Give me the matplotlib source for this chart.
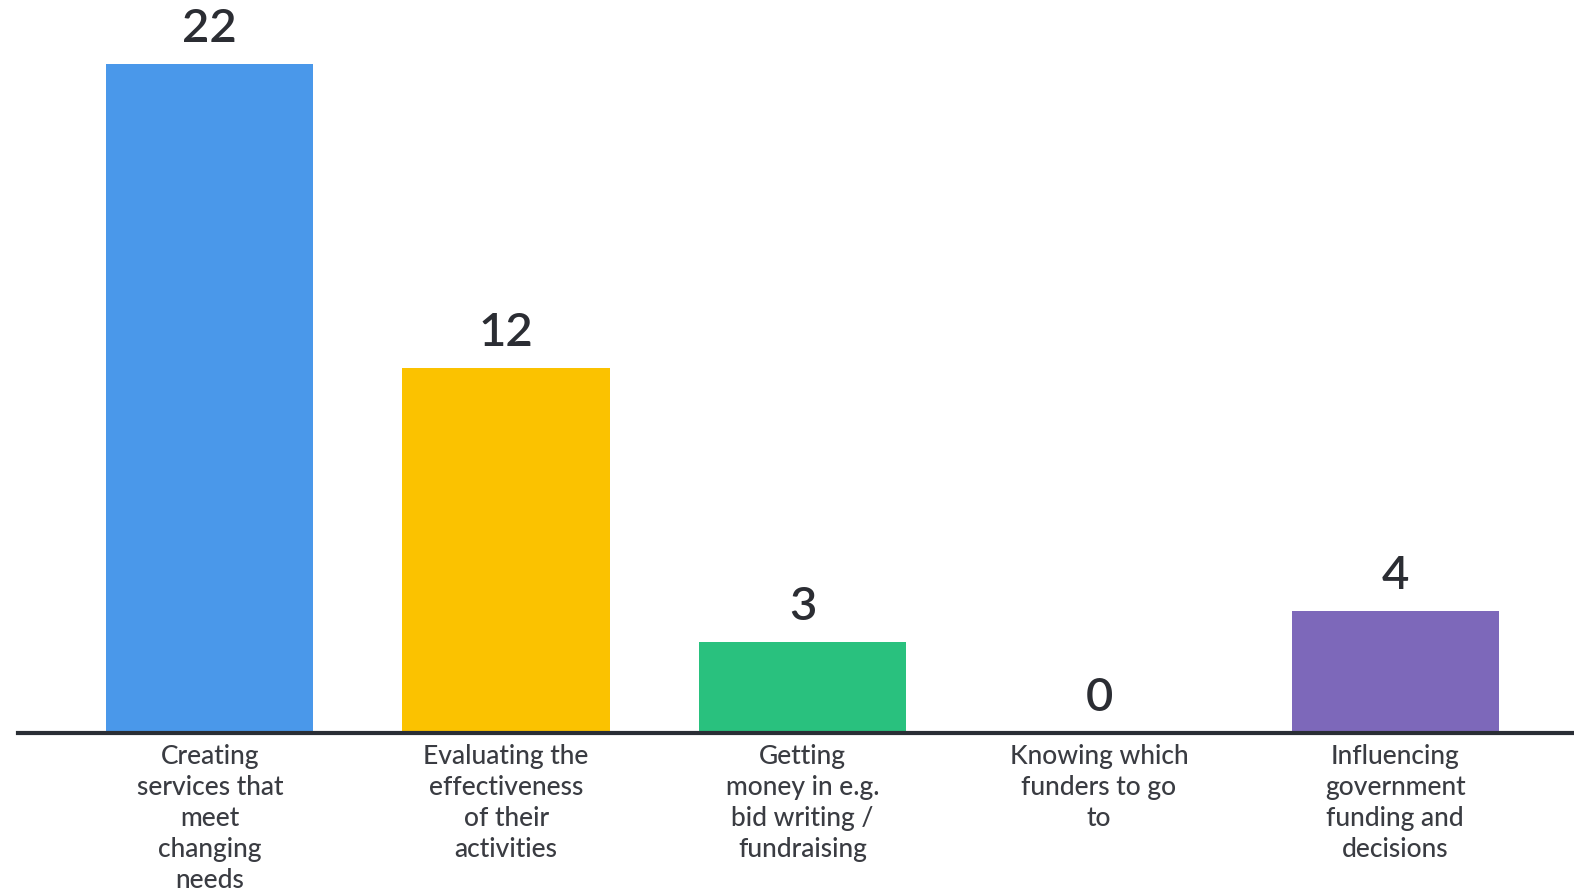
import matplotlib
matplotlib.use("Agg")
import matplotlib.pyplot as plt

categories = [
    "Creating\nservices that\nmeet\nchanging\nneeds",
    "Evaluating the\neffectiveness\nof their\nactivities",
    "Getting\nmoney in e.g.\nbid writing /\nfundraising",
    "Knowing which\nfunders to go\nto",
    "Influencing\ngovernment\nfunding and\ndecisions",
]
counts = [22, 12, 3, 0, 4]
colors = ["#4A98EA", "#FBC200", "#29C17E", "#4A98EA", "#7D68BA"]

plt.rcParams["font.family"] = ["Lato", "DejaVu Sans"]
text_color = "#2b2d33"

fig = plt.figure(figsize=(15.74, 8.95), dpi=100)
ax = fig.add_axes([18 / 1574, 161 / 895, 1 - 18 / 1574, 734 / 895])

x = range(len(counts))
ax.bar(x, counts, width=0.70, color=colors)

for xi, v in zip(x, counts):
    ax.annotate(str(v), (xi, v), xytext=(0, 11), textcoords="offset points",
                ha="center", va="bottom", fontsize=34, fontweight="semibold",
                color=text_color)

ax.set_xlim(-0.647, 4.603)
ax.set_ylim(0, 24.15)
ax.set_xticks(list(x))
ax.set_xticklabels(categories, fontsize=19, fontweight="medium",
                   color="#3a3c42", linespacing=1.3)
ax.tick_params(axis="x", length=0, pad=7)
ax.set_yticks([])

for side in ("top", "right", "left"):
    ax.spines[side].set_visible(False)
ax.spines["bottom"].set_color("#2a2e35")
ax.spines["bottom"].set_linewidth(3)

fig.savefig("out.png", dpi=100, facecolor="white")
